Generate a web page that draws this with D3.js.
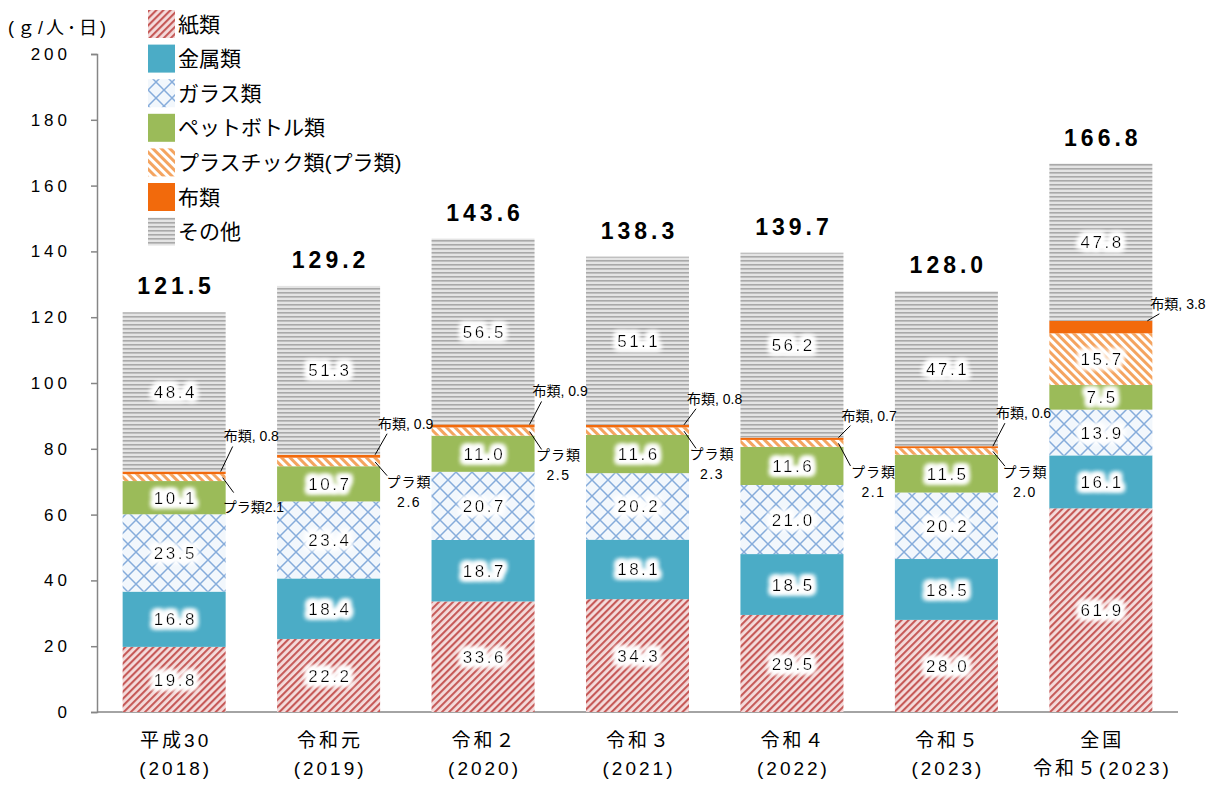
<!DOCTYPE html>
<html>
<head>
<meta charset="utf-8">
<script src="https://cdn.jsdelivr.net/npm/d3@7"></script>
<style>
  body { margin: 0; background: #fff; }
  svg { font-family: "Liberation Sans", Arial, "Noto Sans CJK JP", sans-serif; }
</style>
</head>
<body>
<div id="chart"></div>
<script>
// data
const categories = [["平成30", "(2018)"], ["令和元", "(2019)"], ["令和２", "(2020)"], ["令和３", "(2021)"],
  ["令和４", "(2022)"], ["令和５", "(2023)"], ["全国", "令和５(2023)"]];
const paper   = [19.8, 22.2, 33.6, 34.3, 29.5, 28.0, 61.9];
const metal   = [16.8, 18.4, 18.7, 18.1, 18.5, 18.5, 16.1];
const glass   = [23.5, 23.4, 20.7, 20.2, 21.0, 20.2, 13.9];
const pet     = [10.1, 10.7, 11.0, 11.6, 11.6, 11.5, 7.5];
const plastic = [2.1, 2.6, 2.5, 2.3, 2.1, 2.0, 15.7];
const cloth   = [0.8, 0.9, 0.9, 0.8, 0.7, 0.6, 3.8];
const other   = [48.4, 51.3, 56.5, 51.1, 56.2, 47.1, 47.8];
const totals  = [121.5, 129.2, 143.6, 138.3, 139.7, 128.0, 166.8];
const seriesNames = ["紙類", "金属類", "ガラス類", "ペットボトル類", "プラスチック類(プラ類)", "布類", "その他"];
const yTicks = [0, 20, 40, 60, 80, 100, 120, 140, 160, 180, 200];

// callout nudges (layout only)
const clothDy = [-35, -31, -33, -26, -22, -33, -17];
const plaDy = [33, 24, 28, 27, 32, 24];
const plaDx = [0, 29, 24, 23, 30, 27];

const width = 1218, height = 787;
const margin = {left: 97, right: 40, top: 54, bottom: 75};

const keys = ["paper", "metal", "glass", "pet", "plastic", "cloth", "other"];
const cols = [paper, metal, glass, pet, plastic, cloth, other];
const rows = categories.map((c, i) => {
  const r = {idx: i};
  keys.forEach((k, j) => r[k] = cols[j][i]);
  return r;
});

const svg = d3.select("#chart").append("svg")
  .attr("width", width).attr("height", height);

const defs = svg.append("defs");

// fills
let p = defs.append("pattern").attr("id", "pPaper").attr("patternUnits", "userSpaceOnUse")
  .attr("width", 5).attr("height", 5).attr("patternTransform", "rotate(45)");
p.append("rect").attr("width", 5).attr("height", 5).attr("fill", "#f4dcdc");
p.append("rect").attr("width", 2.1).attr("height", 5).attr("fill", "#c65a58");

p = defs.append("pattern").attr("id", "pPla").attr("patternUnits", "userSpaceOnUse")
  .attr("width", 6).attr("height", 6).attr("patternTransform", "rotate(-45)");
p.append("rect").attr("width", 6).attr("height", 6).attr("fill", "#fff");
p.append("rect").attr("width", 3).attr("height", 6).attr("fill", "#f4a460");

p = defs.append("pattern").attr("id", "pGlass").attr("patternUnits", "userSpaceOnUse")
  .attr("width", 16).attr("height", 16);
p.append("rect").attr("width", 16).attr("height", 16).attr("fill", "#f2f7fc");
p.append("path").attr("d", "M0,0L16,16M16,0L0,16").attr("stroke", "#86acdb").attr("stroke-width", 1.5);

p = defs.append("pattern").attr("id", "pOther").attr("patternUnits", "userSpaceOnUse")
  .attr("width", 8).attr("height", 4);
p.append("rect").attr("width", 8).attr("height", 4).attr("fill", "#e4e4e4");
p.append("rect").attr("width", 8).attr("height", 1.6).attr("fill", "#a9a9a9");

const fills = ["url(#pPaper)", "#4bacc6", "url(#pGlass)", "#9bbb59", "url(#pPla)", "#f26a0c", "url(#pOther)"];

// white glow behind segment values
const f = defs.append("filter").attr("id", "halo")
  .attr("x", "-30%").attr("y", "-60%").attr("width", "160%").attr("height", "220%");
f.append("feMorphology").attr("in", "SourceAlpha").attr("operator", "dilate").attr("radius", 3).attr("result", "d");
f.append("feGaussianBlur").attr("in", "d").attr("stdDeviation", 2.5).attr("result", "b");
f.append("feFlood").attr("flood-color", "#fff");
f.append("feComposite").attr("in2", "b").attr("operator", "in").attr("result", "w");
const fm = f.append("feMerge");
fm.append("feMergeNode").attr("in", "w");
fm.append("feMergeNode").attr("in", "w");
fm.append("feMergeNode").attr("in", "w");
fm.append("feMergeNode").attr("in", "SourceGraphic");

const x = d3.scaleBand()
  .domain(d3.range(categories.length))
  .range([margin.left, width - margin.right])
  .paddingInner(0.333).paddingOuter(0.166);

const y = d3.scaleLinear().domain([0, 200]).range([height - margin.bottom, margin.top]);

const stacked = d3.stack().keys(keys)(rows);

// axes
const yAxis = svg.append("g")
  .attr("transform", `translate(${margin.left},0)`)
  .call(d3.axisLeft(y).tickValues(yTicks).tickSize(6).tickPadding(20));
yAxis.select(".domain").attr("stroke", "#868686").attr("stroke-width", 1.5);
yAxis.selectAll(".tick line").attr("stroke", "#868686").attr("stroke-width", 1.5);
yAxis.selectAll(".tick text")
  .attr("font-size", 17).attr("fill", "#000").attr("letter-spacing", "4px")
  .attr("font-family", "Liberation Sans, Arial, sans-serif");

svg.append("line")
  .attr("x1", margin.left).attr("x2", width - margin.right)
  .attr("y1", y(0)).attr("y2", y(0))
  .attr("stroke", "#868686").attr("stroke-width", 1.5);

// bars
const layer = svg.append("g").selectAll("g")
  .data(stacked).join("g")
  .attr("fill", (d, i) => fills[i]);

layer.selectAll("rect")
  .data(d => d)
  .join("rect")
  .attr("x", d => x(d.data.idx))
  .attr("width", x.bandwidth())
  .attr("y", d => y(d[1]))
  .attr("height", d => y(d[0]) - y(d[1]));

// values inside segments
const labels = svg.append("g").attr("font-size", 17).attr("letter-spacing", "2.5px")
  .attr("text-anchor", "middle").attr("filter", "url(#halo)");
stacked.forEach((s, si) => {
  s.forEach((d, i) => {
    const v = d[1] - d[0];
    const isCallout = s.key === "cloth" || (s.key === "plastic" && i < 6);
    if (isCallout) return;
    labels.append("text")
      .attr("x", x(i) + x.bandwidth() / 2 + 1.25)
      .attr("y", y((d[0] + d[1]) / 2))
      .attr("dy", "0.36em")
      .text(v.toFixed(1));
  });
});

// totals
svg.append("g").selectAll("text")
  .data(totals).join("text")
  .attr("x", (d, i) => x(i) + x.bandwidth() / 2 + 2)
  .attr("y", (d, i) => y(d3.max(stacked[6], s => s.data.idx === i ? s[1] : 0)) - 18)
  .attr("text-anchor", "middle")
  .attr("font-size", 23).attr("font-weight", "bold").attr("letter-spacing", "4px")
  .text(d => d.toFixed(1));

// callouts
const call = svg.append("g").attr("font-size", 14);
rows.forEach((r, i) => {
  const right = x(i) + x.bandwidth();
  const clothTop = y(stacked[5][i][1]);
  const ly = clothTop + clothDy[i];
  call.append("line")
    .attr("x1", right - 5).attr("y1", clothTop)
    .attr("x2", right + 7).attr("y2", ly + 10)
    .attr("stroke", "#000").attr("stroke-width", 1);
  call.append("text")
    .attr("x", right - 2).attr("y", ly).attr("dy", "0.35em")
    .text(`布類, ${cloth[i].toFixed(1)}`);

  if (i < 6) {
    const pMid = y((stacked[4][i][0] + stacked[4][i][1]) / 2);
    const pTop = y(stacked[4][i][1]);
    if (i === 0) {
      call.append("line")
        .attr("x1", right - 3).attr("y1", pMid)
        .attr("x2", right + 8).attr("y2", pMid + 15)
        .attr("stroke", "#000");
      call.append("text")
        .attr("x", right - 3).attr("y", pTop + plaDy[i]).attr("dy", "0.35em")
        .attr("font-size", 14)
        .text(`プラ類${plastic[i].toFixed(1)}`);
    } else {
      const cx = right + plaDx[i];
      call.append("line")
        .attr("x1", right - 5).attr("y1", pMid)
        .attr("x2", right + 7).attr("y2", pTop + plaDy[i] - 6)
        .attr("stroke", "#000");
      call.append("text")
        .attr("x", cx).attr("y", pTop + plaDy[i]).attr("dy", "0.35em")
        .attr("text-anchor", "middle").attr("font-size", 14).attr("letter-spacing", "1px")
        .text("プラ類");
      call.append("text")
        .attr("x", cx).attr("y", pTop + plaDy[i] + 20).attr("dy", "0.35em")
        .attr("text-anchor", "middle").attr("font-size", 14).attr("letter-spacing", "1.5px")
        .text(plastic[i].toFixed(1));
    }
  }
});

// x labels
const xl = svg.append("g").attr("text-anchor", "middle").attr("font-size", 19).attr("letter-spacing", "3px");
categories.forEach((c, i) => {
  c.forEach((line, k) => {
    xl.append("text")
      .attr("x", x(i) + x.bandwidth() / 2 + 1.5)
      .attr("y", y(0) + 35 + k * 28)
      .text(line);
  });
});

// unit
svg.append("text")
  .attr("x", 8).attr("y", 34)
  .attr("font-size", 18).attr("letter-spacing", "3px")
  .text("(ｇ/人･日)");

// legend
const lg = svg.append("g").attr("transform", "translate(148,10)");
seriesNames.forEach((n, i) => {
  lg.append("rect").attr("x", 0).attr("y", i * 34.6).attr("width", 27).attr("height", 28)
    .attr("fill", fills[i]);
  lg.append("text").attr("x", 30).attr("y", i * 34.6 + 14).attr("dy", "0.36em")
    .attr("font-size", 21).text(n);
});
</script>
</body>
</html>
